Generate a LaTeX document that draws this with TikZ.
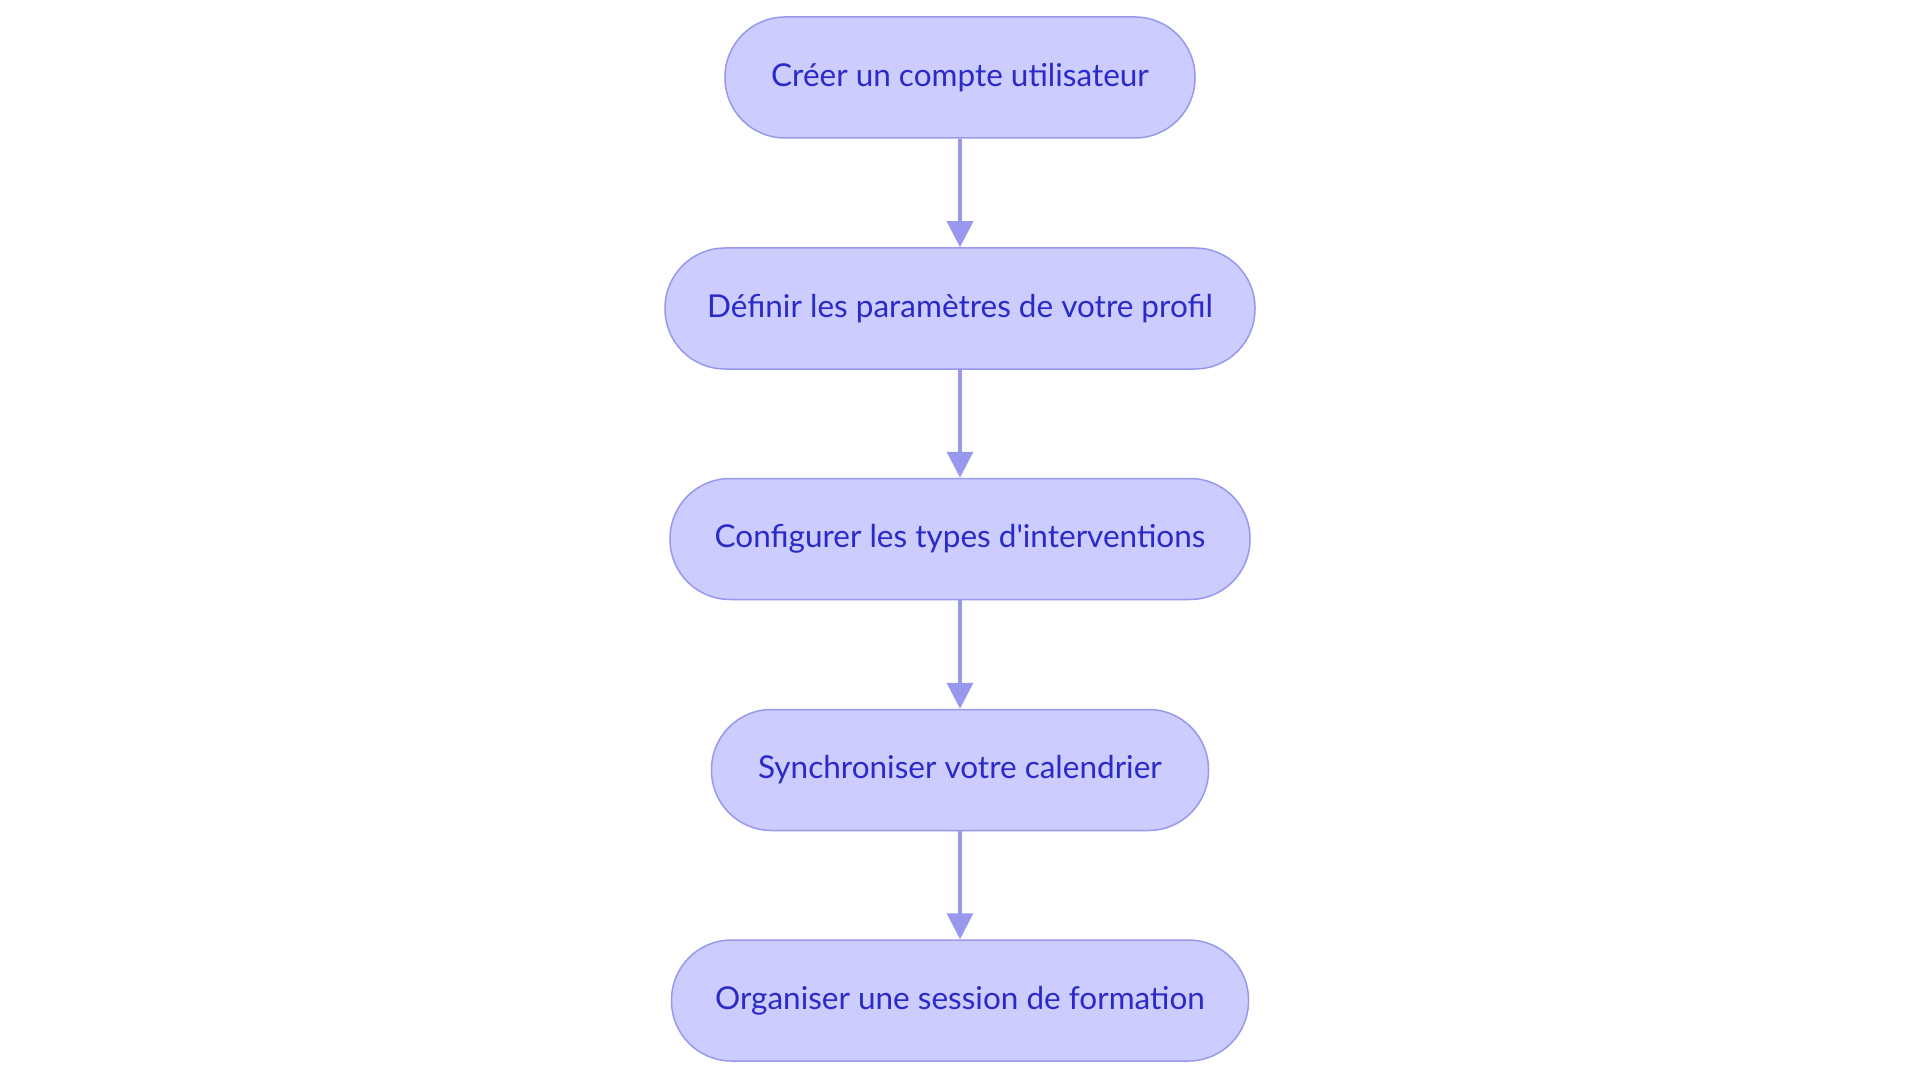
\documentclass[tikz,border=0pt]{standalone}
\usepackage{fontspec}
\setmainfont{Lato}
\usetikzlibrary{arrows.meta}
\definecolor{bfill}{HTML}{CCCCFF}
\definecolor{bdraw}{HTML}{9898EE}
\definecolor{btext}{HTML}{2A2AC8}
\begin{document}
\begin{tikzpicture}[x=1pt,y=-1pt,
  flowbox/.style={draw=bdraw,line width=1.5pt,fill=bfill,rounded corners=60pt,minimum height=121pt,text=btext,font=\fontsize{31.5}{36}\selectfont,inner sep=0pt},
  arr/.style={draw=bdraw,line width=3.5pt,-{Triangle[length=26pt,width=26pt]}}]
\useasboundingbox (0,0) rectangle (1920,1083);
\node[flowbox,minimum width=470pt] (a) at (960,77.5) {Créer un compte utilisateur};
\node[flowbox,minimum width=590pt] (b) at (960,308.5) {Définir les paramètres de votre profil};
\node[flowbox,minimum width=580pt] (c) at (960,539) {Configurer les types d\textquotesingle interventions};
\node[flowbox,minimum width=497pt] (d) at (960,770) {Synchroniser votre calendrier};
\node[flowbox,minimum width=577pt] (e) at (960,1000.5) {Organiser une session de formation};
\draw[arr] (a) -- (b);
\draw[arr] (b) -- (c);
\draw[arr] (c) -- (d);
\draw[arr] (d) -- (e);
\end{tikzpicture}
\end{document}
